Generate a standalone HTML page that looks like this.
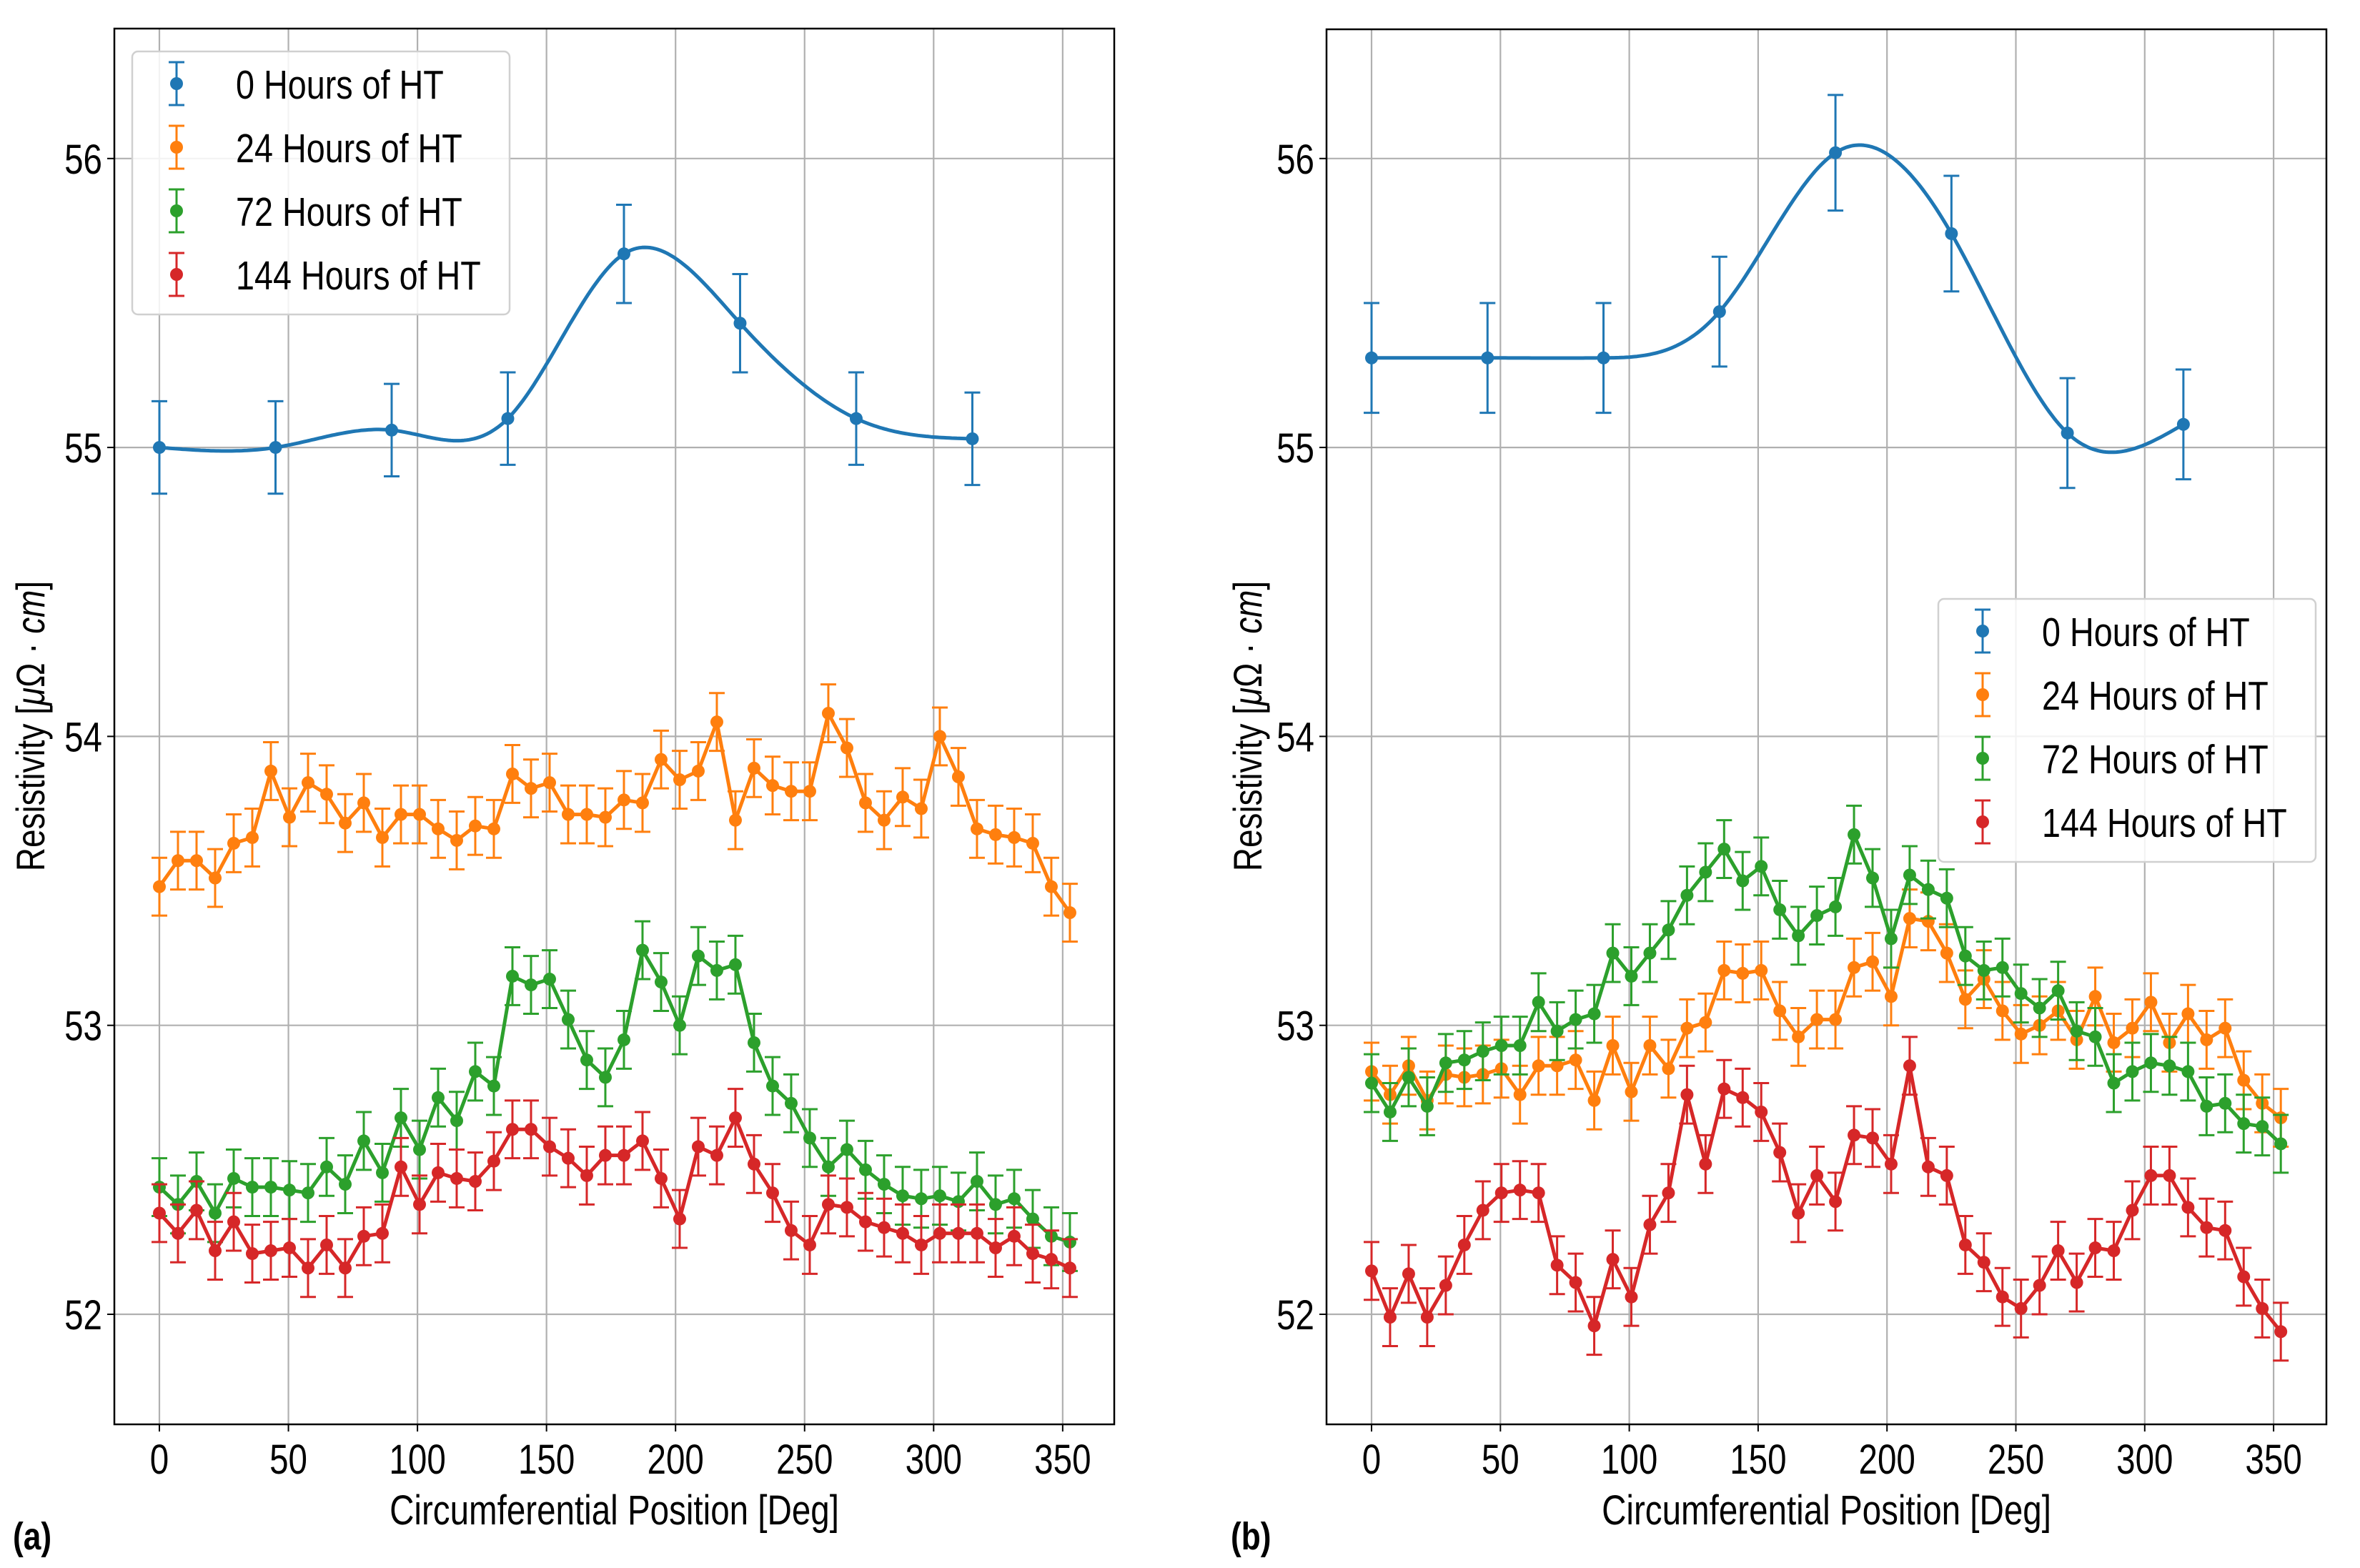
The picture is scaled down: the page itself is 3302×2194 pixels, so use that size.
<!DOCTYPE html>
<html><head><meta charset="utf-8"><style>
html,body{margin:0;padding:0;background:#fff;}
svg{display:block;}
text{font-family:"Liberation Sans","DejaVu Sans",sans-serif;fill:#000;}
</style></head>
<body>
<svg id="fig" width="3302" height="2194" viewBox="0 0 3302 2194" xmlns="http://www.w3.org/2000/svg"></svg>
<script>
const xCoarse=[0,45,90,135,180,225,270,315];
const xFine=[];for(let i=0;i<50;i++)xFine.push(i*7.2);
const xTicks=[0,50,100,150,200,250,300,350];
const yTicks=[52,53,54,55,56];
const seriesNames=["0 Hours of HT","24 Hours of HT","72 Hours of HT","144 Hours of HT"];
const colors=["#1f77b4","#ff7f0e","#2ca02c","#d62728"];
// panel (a)
const a0=[55.0,55.0,55.06,55.1,55.67,55.43,55.1,55.03];
const a0err=[0.16,0.16,0.16,0.16,0.17,0.17,0.16,0.16];
const a24=[53.48,53.57,53.57,53.51,53.63,53.65,53.88,53.72,53.84,53.80,53.70,53.77,53.65,53.73,53.73,53.68,53.64,53.69,53.68,53.87,53.82,53.84,53.73,53.73,53.72,53.78,53.77,53.92,53.85,53.88,54.05,53.71,53.89,53.83,53.81,53.81,54.08,53.96,53.77,53.71,53.79,53.75,54.0,53.86,53.68,53.66,53.65,53.63,53.48,53.39];
const a72=[52.44,52.38,52.46,52.35,52.47,52.44,52.44,52.43,52.42,52.51,52.45,52.60,52.49,52.68,52.57,52.75,52.67,52.84,52.79,53.17,53.14,53.16,53.02,52.88,52.82,52.95,53.26,53.15,53.0,53.24,53.19,53.21,52.94,52.79,52.73,52.61,52.51,52.57,52.50,52.45,52.41,52.40,52.41,52.39,52.46,52.38,52.40,52.33,52.27,52.25];
const a144=[52.35,52.28,52.36,52.22,52.32,52.21,52.22,52.23,52.16,52.24,52.16,52.27,52.28,52.51,52.38,52.49,52.47,52.46,52.53,52.64,52.64,52.58,52.54,52.48,52.55,52.55,52.60,52.47,52.33,52.58,52.55,52.68,52.52,52.42,52.29,52.24,52.38,52.37,52.32,52.30,52.28,52.24,52.28,52.28,52.28,52.23,52.27,52.21,52.19,52.16];
// panel (b)
const b0=[55.31,55.31,55.31,55.47,56.02,55.74,55.05,55.08];
const b0err=[0.19,0.19,0.19,0.19,0.2,0.2,0.19,0.19];
const b24=[52.84,52.76,52.86,52.74,52.83,52.82,52.83,52.85,52.76,52.86,52.86,52.88,52.74,52.93,52.77,52.93,52.85,52.99,53.01,53.19,53.18,53.19,53.05,52.96,53.02,53.02,53.20,53.22,53.10,53.37,53.36,53.25,53.09,53.16,53.05,52.97,53.00,53.05,52.95,53.10,52.94,52.99,53.08,52.94,53.04,52.95,52.99,52.81,52.73,52.68];
const b72=[52.80,52.70,52.82,52.72,52.87,52.88,52.91,52.93,52.93,53.08,52.98,53.02,53.04,53.25,53.17,53.25,53.33,53.45,53.53,53.61,53.50,53.55,53.40,53.31,53.38,53.41,53.66,53.51,53.30,53.52,53.47,53.44,53.24,53.19,53.20,53.11,53.06,53.12,52.98,52.96,52.80,52.84,52.87,52.86,52.84,52.72,52.73,52.66,52.65,52.59];
const b144=[52.15,51.99,52.14,51.99,52.10,52.24,52.36,52.42,52.43,52.42,52.17,52.11,51.96,52.19,52.06,52.31,52.42,52.76,52.52,52.78,52.75,52.70,52.56,52.35,52.48,52.39,52.62,52.61,52.52,52.86,52.51,52.48,52.24,52.18,52.06,52.02,52.10,52.22,52.11,52.23,52.22,52.36,52.48,52.48,52.37,52.30,52.29,52.13,52.02,51.94];
const fineErr=0.1;

const NS="http://www.w3.org/2000/svg";
const svg=document.getElementById('fig');
function mk(tag,attrs,parent){const e=document.createElementNS(NS,tag);for(const k in attrs)e.setAttribute(k,attrs[k]);(parent||svg).appendChild(e);return e;}
function txt(s,x,y,size,anchor,parent,rot){
  const g=mk('g',{transform:`translate(${x},${y})`+(rot?` rotate(${rot})`:'')+' scale(0.82,1)'},parent);
  const t=mk('text',{x:0,y:0,'font-size':size,'text-anchor':anchor||'middle'},g);
  t.textContent=s;return t;
}
function spline(xs,ys){
  const n=xs.length,h=[],al=[],l=[1],mu=[0],z=[0],c=new Array(n).fill(0),b=[],d=[];
  for(let i=0;i<n-1;i++)h.push(xs[i+1]-xs[i]);
  for(let i=1;i<n-1;i++)al[i]=3/h[i]*(ys[i+1]-ys[i])-3/h[i-1]*(ys[i]-ys[i-1]);
  for(let i=1;i<n-1;i++){l[i]=2*(xs[i+1]-xs[i-1])-h[i-1]*mu[i-1];mu[i]=h[i]/l[i];z[i]=(al[i]-h[i-1]*z[i-1])/l[i];}
  for(let j=n-2;j>=0;j--){c[j]=(z[j]||0)-mu[j]*c[j+1];b[j]=(ys[j+1]-ys[j])/h[j]-h[j]*(c[j+1]+2*c[j])/3;d[j]=(c[j+1]-c[j])/(3*h[j]);}
  return x=>{let j=Math.min(n-2,Math.max(0,xs.findIndex((v,i)=>i<n-1&&x<=xs[i+1])));const dx=x-xs[j];return ys[j]+b[j]*dx+c[j]*dx*dx+d[j]*dx*dx*dx;};
}
function panel(cfg){
  const g=mk('g',{},svg);
  
  
  const X=d=>cfg.x0+d*cfg.sx, Y=v=>1839-(v-52)*404.3;
  const {L,R,T,B}=cfg;
  const grid=mk('g',{},g);
  
  
  xTicks.forEach(t=>{mk('line',{x1:X(t),x2:X(t),y1:T,y2:B,stroke:'#b0b0b0','stroke-width':2.2},grid);
    mk('line',{x1:X(t),x2:X(t),y1:B,y2:B+10,stroke:'#000','stroke-width':2},g);
    const lb=txt(String(t),X(t),2062,58,'middle',g);
    
    });
  yTicks.forEach(t=>{mk('line',{x1:L,x2:R,y1:Y(t),y2:Y(t),stroke:'#b0b0b0','stroke-width':2.2},grid);
    mk('line',{x1:L-10,x2:L,y1:Y(t),y2:Y(t),stroke:'#000','stroke-width':2},g);
    const lb=txt(String(t),L-17,Y(t)+21,58,'end',g);
    
    });
  const clip='clip'+cfg.name;
  const cp=mk('clipPath',{id:clip},g);mk('rect',{x:L,y:T,width:R-L,height:B-T},cp);
  const plot=mk('g',{'clip-path':`url(#${clip})`},g);
  const all=[[cfg.s0,cfg.e0,xCoarse,true],[cfg.s24,null,xFine,false],[cfg.s72,null,xFine,false],[cfg.s144,null,xFine,false]];
  all.forEach(([vals,errs,xs,smooth],si)=>{
    const sg=mk('g',{},plot);
    
    
    const col=colors[si];
    let d='';
    if(smooth){const f=spline(xs,vals);for(let x=xs[0];x<=xs[xs.length-1]+0.01;x+=1)d+=(d?'L':'M')+X(x).toFixed(1)+','+Y(f(x)).toFixed(1);}
    else vals.forEach((v,i)=>{d+=(i?'L':'M')+X(xs[i]).toFixed(1)+','+Y(v).toFixed(1);});
    const p=mk('path',{d,fill:'none',stroke:col,'stroke-width':5,'stroke-linejoin':'round'},sg);
    
    
    vals.forEach((v,i)=>{
      const e=errs?errs[i]:fineErr, x=X(xs[i]);
      mk('line',{x1:x,x2:x,y1:Y(v-e),y2:Y(v+e),stroke:col,'stroke-width':3},sg);
      mk('line',{x1:x-11,x2:x+11,y1:Y(v-e),y2:Y(v-e),stroke:col,'stroke-width':3},sg);
      mk('line',{x1:x-11,x2:x+11,y1:Y(v+e),y2:Y(v+e),stroke:col,'stroke-width':3},sg);
      const c=mk('circle',{cx:x,cy:Y(v),r:9,fill:col},sg);
      
      
    });
  });
  mk('rect',{x:L,y:T,width:R-L,height:B-T,fill:'none',stroke:'#000','stroke-width':2.5},g);
  const xl=txt('Circumferential Position [Deg]',(L+R)/2,2133,58,'middle',g);
  
  
  const yg=mk('g',{transform:`translate(${cfg.ylx},1016) rotate(-90) scale(0.82,1)`},g);
  
  
  const yt=mk('text',{x:0,y:0,'font-size':56,'text-anchor':'middle'},yg);
  yt.innerHTML='Resistivity [<tspan font-style="italic">μ</tspan>Ω · <tspan font-style="italic">cm</tspan>]';
  const pl=txt(cfg.label,cfg.plx,2168,54,'start',g);pl.setAttribute('font-weight','bold');
  
  
  const lg=mk('g',{},g);
  
  
  const lx=cfg.legX, ly=cfg.legY;
  mk('rect',{x:lx,y:ly,width:528,height:368,rx:8,fill:'#fff','fill-opacity':0.85,stroke:'#d0d0d0','stroke-width':2.5},lg);
  seriesNames.forEach((n,i)=>{
    const cy=ly+45+i*89, mx=lx+62;
    const eg=mk('g',{},lg);
    
    
    mk('line',{x1:mx,x2:mx,y1:cy-30,y2:cy+30,stroke:colors[i],'stroke-width':3},eg);
    mk('line',{x1:mx-11,x2:mx+11,y1:cy-30,y2:cy-30,stroke:colors[i],'stroke-width':3},eg);
    mk('line',{x1:mx-11,x2:mx+11,y1:cy+30,y2:cy+30,stroke:colors[i],'stroke-width':3},eg);
    mk('circle',{cx:mx,cy:cy,r:9,fill:colors[i]},eg);
    txt(n,lx+145,cy+21,57,'start',eg);
  });
}
panel({name:'panel-a',x0:223,sx:3.611,L:160,R:1559,T:40,B:1993,s0:a0,e0:a0err,s24:a24,s72:a72,s144:a144,ylx:62,plx:18,label:'(a)',legX:185,legY:72});
panel({name:'panel-b',x0:1919,sx:3.606,L:1856,R:3255,T:41,B:1993,s0:b0,e0:b0err,s24:b24,s72:b72,s144:b144,ylx:1765,plx:1722,label:'(b)',legX:2712,legY:838});
</script>
</body></html>
